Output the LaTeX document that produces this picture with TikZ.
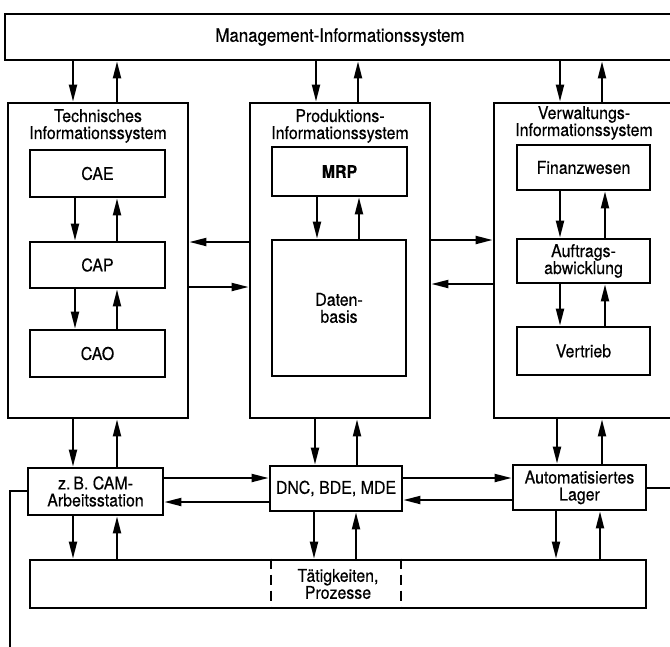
\documentclass[tikz,border=0pt]{standalone}
\usepackage{fontspec}
\setmainfont{TeX Gyre Heros}[FakeStretch=0.91,FakeBold=0.4]
\usetikzlibrary{arrows.meta}
\begin{document}
\begin{tikzpicture}[x=1pt,y=-1pt,>={Triangle[length=17pt,width=8pt]},
 every node/.style={font=\fontsize{17.5}{17}\selectfont,align=center,inner sep=0pt},
 box/.style={draw,line width=2.8pt},
 sz/.style 2 args={minimum width=#1,minimum height=#2},
 link/.style={line width=2pt}]
 \useasboundingbox (0,0) rectangle (670,646);

 \node[box,sz={670}{46},font=\fontsize{18.5}{19}\selectfont] (mis) at (340,37) {Management-Informationssystem};

 \node[box,sz={180}{315}] (tis) at (98,260.5) {};
 \node[box,sz={180}{315}] (pis) at (340,260.5) {};
 \node[box,sz={180}{315}] (vis) at (584,260.5) {};
 \node (tist) at (98,126) {Technisches\\Informationssystem};
 \node (pist) at (340,126) {Produktions-\\Informationssystem};
 \node (vist) at (584,123) {Verwaltungs-\\Informationssystem};

 \node[box,sz={135}{47}] (cae) at (97.5,173.5) {CAE};
 \node[box,sz={135}{46}] (cap) at (97.5,265) {CAP};
 \node[box,sz={135}{47}] (cao) at (97.5,353.5) {CAO};
 \node[box,sz={135}{49}] (mrp) at (339.5,171.5) {\bfseries MRP};
 \node[box,sz={134}{136}] (db) at (339,308) {Daten-\\basis};
 \node[box,sz={133}{45}] (fin) at (583.5,167.5) {Finanzwesen};
 \node[box,sz={133}{44}] (auf) at (583.5,261) {Auftrags-\\abwicklung};
 \node[box,sz={133}{48}] (vert) at (583.5,351) {Vertrieb};

 \node[box,sz={135}{47}] (cam) at (95.5,491.5) {z.\,B. CAM-\\Arbeitsstation};
 \node[box,sz={132}{45}] (dnc) at (336,488.5) {DNC, BDE, MDE};
 \node[box,sz={133}{45}] (lager) at (579.5,487.5) {Automatisiertes\\Lager};
 \node[box,sz={616}{48}] (proc) at (338,584) {Tätigkeiten,\\Prozesse};

 \coordinate (lend) at (10,660);
 \coordinate (rend) at (680,487.5);

 \foreach \a/\b/\xd/\xu in {mis/tis/73/117,mis/pis/316/358,mis/vis/560/602,
  cae/cap/75/117,cap/cao/75/117,mrp/db/317/359,fin/auf/560/605,auf/vert/560/605,
  tis/cam/73/117,pis/dnc/315/357,vis/lager/557/602,
  cam/proc/73/117,dnc/proc/314/356,lager/proc/556/600}
 {
  \draw[link,->] (\a.south -| \xd,0) -- (\b.north -| \xd,0);
  \draw[link,->] (\b.north -| \xu,0) -- (\a.south -| \xu,0);
 }

 \foreach \a/\b/\yr/\yl in {tis/pis/287/242,pis/vis/240/284,cam/dnc/478/502,dnc/lager/478/500}
 {
  \draw[link,->] (\a.east |- 0,\yr) -- (\b.west |- 0,\yr);
  \draw[link,->] (\b.west |- 0,\yl) -- (\a.east |- 0,\yl);
 }

 \draw[line width=2.4pt,dash pattern=on 10pt off 6pt] (proc.north -| 271,0) -- (proc.south -| 271,0);
 \draw[line width=2.4pt,dash pattern=on 10pt off 6pt] (proc.north -| 401,0) -- (proc.south -| 401,0);

 \draw[link] (cam.west |- 0,491) -| (lend);
 \draw[link] (lager.east) -- (rend);
\end{tikzpicture}
\end{document}
